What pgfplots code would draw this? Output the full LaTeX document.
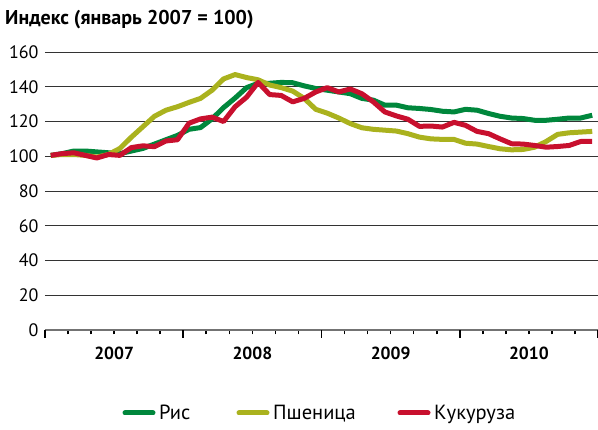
\documentclass[border=0pt]{standalone}
\usepackage{fontspec}
\setmainfont{PT Sans}
\usepackage{pgfplots}
\pgfplotsset{compat=1.18}
\usepackage{pgfplotstable}
\definecolor{cgreen}{RGB}{0,135,60}
\definecolor{cyellow}{RGB}{170,178,30}
\definecolor{cred}{RGB}{200,16,46}
\pgfplotstableread{
m rice wheat corn
0.5 100.5 100.5 100.5
1.5 101.5 101 101.5
2.5 103 101 102
3.5 103 100.5 100.5
4.5 102.5 99.5 99
5.5 102 101 101
6.5 101.5 104.5 100.5
7.5 103 111 105
8.5 104.5 117 106
9.5 107 123 105.5
10.5 109.5 126.5 108.8
11.5 112 128.5 109.5
12.5 115.5 131 119
13.5 116.5 133.3 121.5
14.5 121.5 138 122.5
15.5 128 144.5 120
16.5 133.5 147 128.5
17.5 139.5 145.3 134
18.5 142 144 142.5
19.5 142 141 135.5
20.5 142.5 139.5 135
21.5 142.3 137.5 131.3
22.5 140.5 133.3 133.3
23.5 139 127 137
24.5 138 124.8 139.5
25.5 137 122 137
26.5 136 118.8 138.7
27.5 133.3 116.4 136
28.5 132.3 115.5 131.3
29.5 129.4 115 125.5
30.5 129.4 114.5 123.2
31.5 127.9 113 121.3
32.5 127.5 111 117.2
33.5 126.9 110 117.4
34.5 125.9 109.7 116.8
35.5 125.5 109.7 119.5
36.5 127 107.5 117.8
37.5 126.5 107 114.3
38.5 124.6 105.6 113
39.5 123 104.3 110
40.5 122 103.7 107.2
41.5 121.7 103.9 107
42.5 120.7 105.2 106.2
43.5 120.7 108.5 105.2
44.5 121.3 112.6 105.6
45.5 122 113.5 106.2
46.5 122 113.9 108.5
47.5 123.6 114.3 108.5
}\data
\begin{document}
\begin{tikzpicture}
\useasboundingbox (-45pt,-100pt) rectangle (553pt,330pt);
\begin{axis}[
  scale only axis,
  width=553pt, height=278pt,
  xmin=0, xmax=48, ymin=0, ymax=160,
  axis lines*=left,
  y axis line style={draw=none},
  x axis line style={draw=gray!90!black, line width=1.8pt},
  ytick={0,20,...,160},
  ymajorgrids,
  grid style={black!80, line width=0.9pt},
  ytick style={draw=none},
  yticklabel style={font=\fontsize{18}{20}\selectfont, /pgf/number format/assume math mode=true, xshift=-3pt},
  xtick={6,18,30,42},
  xticklabels={2007,2008,2009,2010},
  xticklabel style={font=\fontsize{17.5}{20}\selectfont\bfseries, yshift=-13pt},
  major tick length=0pt,
  minor xtick={2,4,6,8,10,14,16,18,20,22,26,28,30,32,34,38,40,42,44,46},
  minor tick length=4.5pt,
  extra x ticks={0,12,24,36,48},
  extra x tick labels={},
  extra x tick style={major tick length=8pt},
  tick align=outside,
  x tick style={draw=black, line width=1.6pt},
  line join=round,
  clip=false,
]
\addplot[cgreen, line width=5pt] table[x=m,y=rice] {\data};
\addplot[cyellow, line width=5pt] table[x=m,y=wheat] {\data};
\addplot[cred, line width=5pt] table[x=m,y=corn] {\data};
\end{axis}
\node[anchor=base west, inner sep=0, font=\fontsize{20}{22}\selectfont\bfseries] at (-40pt,305pt) {Индекс (январь 2007 = 100)};
\begin{scope}[font=\fontsize{20.5}{22}\selectfont]
\draw[cgreen, line width=5pt, line cap=round] (80pt,-83pt) -- (108pt,-83pt);
\node[anchor=base west, inner sep=0] at (114pt,-90pt) {Рис};
\draw[cyellow, line width=5pt, line cap=round] (194pt,-83pt) -- (222pt,-83pt);
\node[anchor=base west, inner sep=0] at (228pt,-90pt) {Пшеница};
\draw[cred, line width=5pt, line cap=round] (355pt,-83pt) -- (383pt,-83pt);
\node[anchor=base west, inner sep=0] at (389pt,-90pt) {Кукуруза};
\end{scope}
\end{tikzpicture}
\end{document}
